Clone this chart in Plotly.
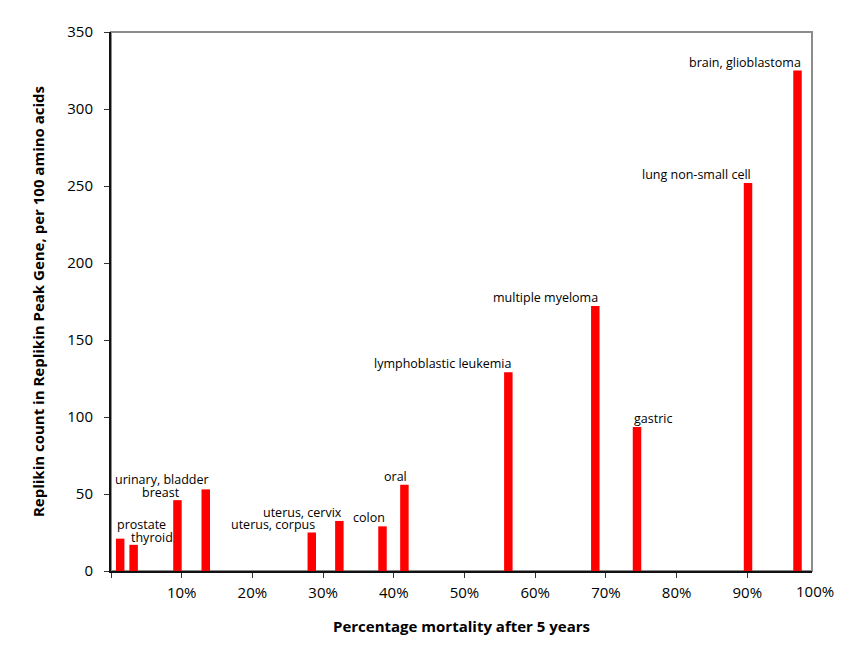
import plotly.graph_objects as go

cancers = ["prostate", "thyroid", "breast", "urinary, bladder", "uterus, corpus",
           "uterus, cervix", "colon", "oral", "lymphoblastic leukemia",
           "multiple myeloma", "gastric", "lung non-small cell", "brain, glioblastoma"]
mortality = [1.3, 3.2, 9.4, 13.4, 28.4, 32.3, 38.4, 41.5, 56.2, 68.5, 74.4, 90.1, 97.1]
replikins = [21, 17, 46, 53, 25, 32.5, 29, 56, 129, 172, 93.5, 252, 325]

# label styling (placement relative to each bar)
label_side = ["left", "left", "right", "right", "right", "right", "right", "right",
              "right", "right", "left", "right", "right"]
label_lift = [4, -3, -3, -1, -2, -2, -2, -2, -2, -2, -2, -2, -2]

x_tickvals = [0, 10, 20, 30, 40, 50, 60, 70, 80, 90]
x_ticktext = ["", "10%", "20%", "30%", "40%", "50%", "60%", "70%", "80%", "90%"]
last_x_label = "100%"
y_tickvals = [0, 50, 100, 150, 200, 250, 300, 350]

FONT = "Open Sans"

fig = go.Figure()
fig.add_trace(go.Bar(x=mortality, y=replikins, width=1.2,
                     marker=dict(color="#ff0000", line=dict(width=0)),
                     hoverinfo="x+y"))

annotations = []
for name, xv, yv, side, lift in zip(cancers, mortality, replikins, label_side, label_lift):
    annotations.append(dict(x=xv, y=yv, text=name, showarrow=False,
                            xanchor=side, yanchor="bottom",
                            xshift=5 if side == "right" else -5, yshift=lift,
                            font=dict(family=FONT, size=12.5, color="#000")))

annotations.append(dict(x=1, xref="paper", y=0, yref="paper", text=last_x_label,
                        showarrow=False, xanchor="center", yanchor="top",
                        xshift=3, yshift=-8,
                        font=dict(family=FONT, size=15, color="#000")))

fig.update_layout(
    width=867, height=658,
    margin=dict(l=103, r=63, t=24, b=95),
    paper_bgcolor="white", plot_bgcolor="white",
    showlegend=False,
    annotations=annotations,
    shapes=[dict(type="rect", xref="paper", yref="paper", x0=0, y0=0, x1=1, y1=1,
                 line=dict(color="#8c8c8c", width=2), layer="below")],
    xaxis=dict(range=[0, 99.15], tickvals=x_tickvals, ticktext=x_ticktext,
               ticks="outside", ticklen=5, tickwidth=1, tickcolor="#333",
               showline=True, linecolor="#111", linewidth=2, showgrid=False,
               zeroline=False, automargin=False, ticklabelstandoff=2,
               tickfont=dict(family=FONT, size=15, color="#000"),
               title=dict(text="<b>Percentage mortality after 5 years</b>",
                          font=dict(family=FONT, size=15, color="#000"), standoff=20)),
    yaxis=dict(range=[0, 350], tickvals=y_tickvals,
               ticks="outside", ticklen=5, tickwidth=1, tickcolor="#333",
               showline=True, linecolor="#111", linewidth=2, showgrid=False,
               zeroline=False, ticklabelstandoff=8, automargin=False,
               tickfont=dict(family=FONT, size=15, color="#000"),
               title=dict(text="<b>Replikin count in Replikin Peak Gene, per 100 amino acids</b>",
                          font=dict(family=FONT, size=15, color="#000"), standoff=19)),
)

fig.write_html("out.html")
